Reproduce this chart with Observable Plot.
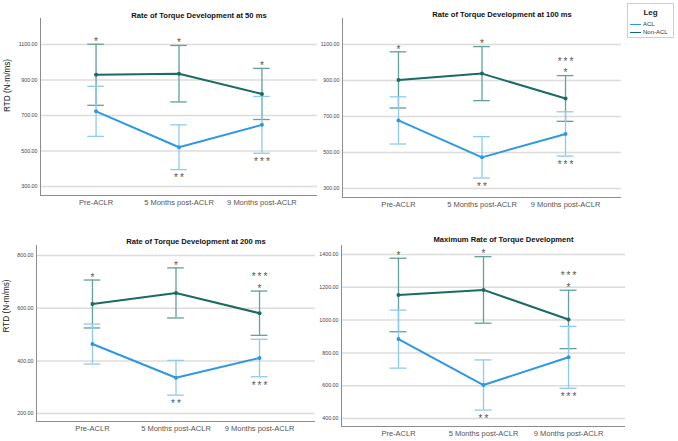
<!DOCTYPE html>
<html>
<head>
<meta charset="utf-8">
<script src="https://cdn.jsdelivr.net/npm/d3@7"></script>
<script src="https://cdn.jsdelivr.net/npm/@observablehq/plot@0.6"></script>
<style>
  html, body { margin: 0; padding: 0; background: #fff; }
  #root { position: relative; width: 678px; height: 441px; overflow: hidden; font-family: "Liberation Sans", Arial, sans-serif; }
  .panel { position: absolute; }
  #legend { position: absolute; left: 627px; top: 3px; width: 47px; height: 35px; border: 1px solid #cfcfcf; background: #fff; box-sizing: border-box; }
  #legend .lt { position: absolute; left: 0; width: 100%; top: 4px; text-align: center; font-weight: bold; font-size: 8px; color: #222; }
  #legend .row { position: absolute; left: 2px; font-size: 6px; color: #333; line-height: 6px; }
  #legend .sw { display: inline-block; width: 11px; height: 1.6px; vertical-align: middle; margin-right: 2px; }
</style>
</head>
<body>
<div id="root"></div>
<script>
// ---- data ----
const categories = ["Pre-ACLR", "5 Months post-ACLR", "9 Months post-ACLR"];
const groups = ["ACL", "Non-ACL"];
const titles = [
  "Rate of Torque Development at 50 ms",
  "Rate of Torque Development at 100 ms",
  "Rate of Torque Development at 200 ms",
  "Maximum Rate of Torque Development"
];
const yLabel = "RTD (N\u00b7m/ms)";

// 50 ms
const aclMean50 = [723, 521, 647];
const aclErr50 = [141, 126, 160];
const nonMean50 = [929, 935, 821];
const nonErr50 = [172, 159, 144];
const yTicks50 = [300, 500, 700, 900, 1100];

// 100 ms
const aclMean100 = [678, 473, 603];
const aclErr100 = [131, 115, 123];
const nonMean100 = [903, 938, 800];
const nonErr100 = [156, 150, 127];
const yTicks100 = [300, 500, 700, 900, 1100];

// 200 ms
const aclMean200 = [464, 336, 411];
const aclErr200 = [76, 66, 71];
const nonMean200 = [616, 658, 581];
const nonErr200 = [91, 95, 84];
const yTicks200 = [200, 400, 600, 800];

// Maximum
const aclMeanMax = [884, 604, 773];
const aclErrMax = [177, 153, 189];
const nonMeanMax = [1153, 1184, 1004];
const nonErrMax = [224, 203, 178];
const yTicksMax = [400, 600, 800, 1000, 1200, 1400];

// significance markers
const nonStars50 = ["*", "*", "*"];
const nonStarsTop50 = ["", "", ""];
const aclStars50 = ["", "**", "***"];
const nonStarsOther = ["*", "*", "*"];
const nonStarsTopOther = ["", "", "***"];
const aclStarsOther = ["", "**", "***"];

// ---- style ----
const aclColor = "#2f98e2";
const aclErrColor = "#8ecaef";
const nonColor = "#1b6a64";
const nonErrColor = "#62a09a";
const FONT = "'Liberation Sans', Arial, sans-serif";

function spaced(s) { return s ? s.split("").join("\u2009") : ""; }

function makePanel(cfg) {
  const idx = categories.map((c, i) => i);
  const rows = (mean, err) => idx.map(i => ({i, mean: mean[i], lo: mean[i] - err[i], hi: mean[i] + err[i]}));
  const non = rows(cfg.nonMean, cfg.nonErr);
  const acl = rows(cfg.aclMean, cfg.aclErr);
  const xDom = [-0.67, 2.67];
  const cap = 0.1;
  const errMarks = (data, color) => [
    Plot.ruleX(data, {x: "i", y1: "lo", y2: "hi", stroke: color, strokeWidth: 1.3}),
    Plot.ruleY(data, {y: "hi", x1: d => d.i - cap, x2: d => d.i + cap, stroke: color, strokeWidth: 1.3}),
    Plot.ruleY(data, {y: "lo", x1: d => d.i - cap, x2: d => d.i + cap, stroke: color, strokeWidth: 1.3})
  ];
  const starStyle = {fontSize: 10, fill: "#555"};
  return Plot.plot({
    width: cfg.width, height: cfg.height,
    marginLeft: cfg.mL, marginRight: cfg.mR, marginTop: cfg.mT, marginBottom: cfg.mB,
    style: {background: "transparent", fontFamily: FONT, overflow: "visible"},
    x: {domain: xDom, axis: null},
    y: {domain: cfg.yDomain, axis: null},
    marks: [
      Plot.ruleY(cfg.yTicks, {stroke: "#dcdcdc", strokeWidth: 1.5}),
      Plot.ruleX([xDom[0]], {stroke: "#8c8c8c", strokeWidth: 1}),
      Plot.ruleY([cfg.yDomain[0]], {stroke: "#8c8c8c", strokeWidth: 1}),
      Plot.axisY({ticks: cfg.yTicks, tickFormat: d3.format(".2f"), tickSize: 0, tickPadding: 3, fontSize: 5.3, fill: "#444", label: null}),
      Plot.axisX({ticks: idx, tickFormat: i => categories[i], tickSize: 0, tickPadding: 4, fontSize: 7.5, fill: "#555", label: null}),
      ...errMarks(non, nonErrColor),
      ...errMarks(acl, aclErrColor),
      Plot.line(non, {x: "i", y: "mean", stroke: nonColor, strokeWidth: 2}),
      Plot.dot(non, {x: "i", y: "mean", r: 2, fill: nonColor}),
      Plot.line(acl, {x: "i", y: "mean", stroke: aclColor, strokeWidth: 2}),
      Plot.dot(acl, {x: "i", y: "mean", r: 2, fill: aclColor}),
      Plot.text(non, {x: "i", y: "hi", text: d => spaced(cfg.nonStars[d.i]), dy: 0.8, lineAnchor: "bottom", ...starStyle}),
      Plot.text(non, {x: "i", y: "hi", text: d => spaced(cfg.nonStarsTop[d.i]), dy: 0.8 - 11.7, lineAnchor: "bottom", ...starStyle}),
      Plot.text(acl, {x: "i", y: "lo", text: d => spaced(cfg.aclStars[d.i]), dy: 8.6, lineAnchor: "middle", ...starStyle}),
      Plot.text([cfg.title], {frameAnchor: "top", dx: 20, dy: cfg.titleDy, lineAnchor: "bottom", fontWeight: "bold", fontSize: 7.6, fill: "#111"}),
      cfg.showYLabel ? Plot.text([yLabel], {frameAnchor: "left", rotate: -90, dx: cfg.yLabDx, dy: cfg.yLabDy, fontSize: 8.2, fill: "#111"}) : null
    ]
  });
}

const panels = [
  {left: 0, top: 0, width: 330, height: 215, mL: 40, mR: 13, mT: 18, mB: 20, yDomain: [249, 1246], yTicks: yTicks50,
   title: titles[0], titleDy: -1, nonMean: nonMean50, nonErr: nonErr50, aclMean: aclMean50, aclErr: aclErr50,
   nonStars: nonStars50, nonStarsTop: nonStarsTop50, aclStars: aclStars50, showYLabel: true, yLabDx: -33, yLabDy: 5},
  {left: 300, top: 0, width: 330, height: 215, mL: 42, mR: 9, mT: 18, mB: 18, yDomain: [250, 1244], yTicks: yTicks100,
   title: titles[1], titleDy: -2, nonMean: nonMean100, nonErr: nonErr100, aclMean: aclMean100, aclErr: aclErr100,
   nonStars: nonStarsOther, nonStarsTop: nonStarsTopOther, aclStars: aclStarsOther, showYLabel: false},
  {left: 0, top: 220, width: 330, height: 221, mL: 36, mR: 15, mT: 25, mB: 20, yDomain: [170, 838], yTicks: yTicks200,
   title: titles[2], titleDy: -1.5, nonMean: nonMean200, nonErr: nonErr200, aclMean: aclMean200, aclErr: aclErr200,
   nonStars: nonStarsOther, nonStarsTop: nonStarsTopOther, aclStars: aclStarsOther, showYLabel: true, yLabDx: -30, yLabDy: -1},
  {left: 300, top: 220, width: 330, height: 221, mL: 41, mR: 5, mT: 25, mB: 15, yDomain: [351, 1455], yTicks: yTicksMax,
   title: titles[3], titleDy: -3.5, nonMean: nonMeanMax, nonErr: nonErrMax, aclMean: aclMeanMax, aclErr: aclErrMax,
   nonStars: nonStarsOther, nonStarsTop: nonStarsTopOther, aclStars: aclStarsOther, showYLabel: false}
];

const root = document.getElementById("root");
for (const p of panels) {
  const div = document.createElement("div");
  div.className = "panel";
  div.style.left = p.left + "px";
  div.style.top = p.top + "px";
  div.appendChild(makePanel(p));
  root.appendChild(div);
}

// legend
const legend = document.createElement("div");
legend.id = "legend";
legend.innerHTML = `<div class="lt">Leg</div>` +
  `<div class="row" style="top:17px"><span class="sw" style="background:${aclColor}"></span>${groups[0]}</div>` +
  `<div class="row" style="top:25px"><span class="sw" style="background:${nonColor}"></span>${groups[1]}</div>`;
root.appendChild(legend);
</script>
</body>
</html>
